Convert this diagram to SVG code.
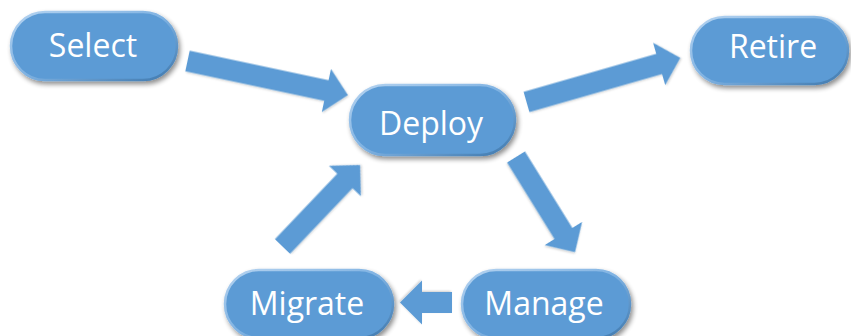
<svg xmlns="http://www.w3.org/2000/svg" width="851" height="336" viewBox="0 0 851 336">
  <defs>
    <linearGradient id="bevel" x1="0" y1="0" x2="1" y2="1">
      <stop offset="0" stop-color="#b5d3f0"/>
      <stop offset="0.5" stop-color="#7fb2e2"/>
      <stop offset="1" stop-color="#3f78ad"/>
    </linearGradient>
    <filter id="shadow" x="-20%" y="-30%" width="140%" height="170%">
      <feGaussianBlur in="SourceAlpha" stdDeviation="2.5"/>
      <feOffset dx="2" dy="3" result="blur"/>
      <feComponentTransfer><feFuncA type="linear" slope="0.45"/></feComponentTransfer>
      <feMerge><feMergeNode/><feMergeNode in="SourceGraphic"/></feMerge>
    </filter>
    <filter id="soft" x="-10%" y="-20%" width="120%" height="140%">
      <feGaussianBlur in="SourceAlpha" stdDeviation="1"/>
      <feOffset dx="1" dy="1"/>
      <feComponentTransfer><feFuncA type="linear" slope="0.2"/></feComponentTransfer>
      <feMerge><feMergeNode/><feMergeNode in="SourceGraphic"/></feMerge>
    </filter>
  </defs>
  <style>
    .pill { fill: #5b9bd5; stroke: url(#bevel); stroke-width: 2.5; filter: url(#shadow); }
    .label { fill: #ffffff; font-family: "Open Sans", "Liberation Sans", sans-serif; font-size: 32px; text-anchor: middle; }
    .arrow { fill: #5b9bd5; filter: url(#soft); }
  </style>

  <!-- block arrows between stages -->
  <g id="connectors">
    <path class="arrow" transform="translate(187.5,61) rotate(12)" d="M0,-10.5 L142,-10.5 L142,-22 L164,0 L142,22 L142,10.5 L0,10.5 Z"/>
    <path class="arrow" transform="translate(526.5,102) rotate(-16)" d="M0,-10.5 L138,-10.5 L138,-22 L160,0 L138,22 L138,10.5 L0,10.5 Z"/>
    <path class="arrow" transform="translate(516,157) rotate(58.2)" d="M0,-10.5 L90,-10.5 L90,-22 L112,0 L90,22 L90,10.5 L0,10.5 Z"/>
    <path class="arrow" transform="translate(452,302.5) rotate(180)" d="M0,-10.5 L30,-10.5 L30,-22 L52,0 L30,22 L30,10.5 L0,10.5 Z"/>
    <path class="arrow" transform="translate(282.5,246.5) rotate(-46.4)" d="M0,-10.5 L90.5,-10.5 L90.5,-22 L112.5,0 L90.5,22 L90.5,10.5 L0,10.5 Z"/>
  </g>

  <g id="select">
    <rect class="pill" x="11" y="12" width="166" height="68" rx="34"/>
    <text class="label" x="93" y="57">Select</text>
  </g>
  <g id="deploy">
    <rect class="pill" x="350" y="85" width="165" height="70" rx="35"/>
    <text class="label" x="431" y="135">Deploy</text>
  </g>
  <g id="retire">
    <rect class="pill" x="691" y="17" width="157" height="67" rx="33.5"/>
    <text class="label" x="773" y="58">Retire</text>
  </g>
  <g id="migrate">
    <rect class="pill" x="225" y="270" width="168" height="68" rx="34"/>
    <text class="label" x="307" y="315">Migrate</text>
  </g>
  <g id="manage">
    <rect class="pill" x="462" y="270" width="168" height="68" rx="34"/>
    <text class="label" x="544" y="315">Manage</text>
  </g>
</svg>
